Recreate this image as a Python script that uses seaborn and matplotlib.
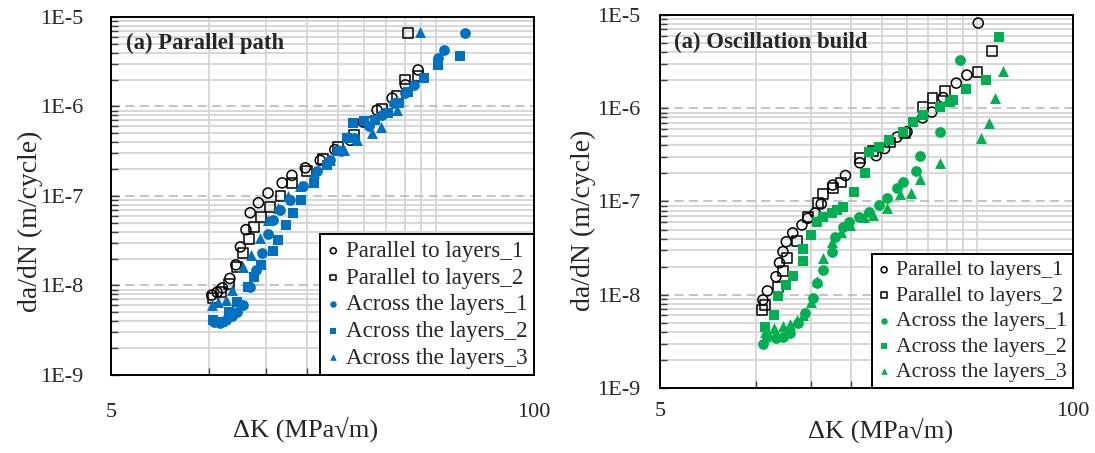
import numpy as np
import matplotlib
matplotlib.use("Agg")
import matplotlib.pyplot as plt
import matplotlib.ticker as mticker
import seaborn as sns

# ---- left panel: parallel path ----
lp_par1_k = [10.2, 10.6, 11.0, 11.6, 12.1, 12.5, 13.0, 13.4, 14.2, 15.2, 16.8, 18.0, 19.8, 22.0, 24.4, 27.2, 29.8, 32.9, 36.6, 40.2, 44.0]
lp_par1_y = [7.8e-9, 8.4e-9, 9.4e-9, 1.2e-8, 1.7e-8, 2.7e-8, 4.2e-8, 6.5e-8, 8.4e-8, 1.08e-7, 1.4e-7, 1.7e-7, 2.06e-7, 2.5e-7, 3.3e-7, 4.2e-7, 6.7e-7, 9.1e-7, 1.24e-6, 1.74e-6, 2.56e-6]
lp_par2_k = [10.3, 10.9, 11.5, 12.2, 12.7, 13.3, 13.8, 14.5, 15.4, 16.6, 18.0, 20.0, 22.5, 25.0, 28.0, 31.0, 34.0, 38.0, 40.2, 44.0, 41.0]
lp_par2_y = [7.3e-9, 8.5e-9, 1.05e-8, 1.6e-8, 2.3e-8, 3.3e-8, 4.5e-8, 5.8e-8, 7.5e-8, 1.0e-7, 1.4e-7, 1.9e-7, 2.6e-7, 3.5e-7, 4.8e-7, 6.8e-7, 9.5e-7, 1.3e-6, 2.0e-6, 2.2e-6, 6.6e-6]
lp_acr1_k = [10.4, 10.8, 11.3, 11.8, 12.2, 12.7, 13.4, 14.0, 14.6, 15.2, 15.8, 16.6, 17.8, 19.5, 21.5, 23.5, 25.5, 28.0, 31.0, 34.0, 37.0, 40.0, 42.6, 50.5, 52.9, 61.4]
lp_acr1_y = [3.9e-9, 3.8e-9, 4.1e-9, 4.6e-9, 5.0e-9, 6.1e-9, 9.7e-9, 1.5e-8, 2.3e-8, 3.8e-8, 5.4e-8, 7.0e-8, 9.0e-8, 1.3e-7, 1.9e-7, 2.5e-7, 3.2e-7, 4.4e-7, 6.0e-7, 8.0e-7, 1.1e-6, 1.4e-6, 1.74e-6, 3.5e-6, 4.3e-6, 6.6e-6]
lp_acr2_k = [10.3, 11.0, 11.5, 12.2, 13.2, 13.8, 14.5, 15.7, 16.3, 17.3, 18.2, 19.2, 21.0, 23.0, 25.0, 26.5, 27.8, 30.0, 32.5, 35.5, 38.5, 41.0, 46.0, 50.7, 59.0]
lp_acr2_y = [4.1e-9, 3.9e-9, 5.0e-9, 6.5e-9, 9.7e-9, 1.26e-8, 1.7e-8, 2.4e-8, 3.2e-8, 4.8e-8, 6.5e-8, 9.0e-8, 1.4e-7, 2.2e-7, 3.2e-7, 4.5e-7, 6.5e-7, 6.8e-7, 7.0e-7, 8.5e-7, 1.1e-6, 1.45e-6, 2.1e-6, 2.9e-6, 3.7e-6]
lp_acr3_k = [10.2, 10.7, 11.3, 11.8, 12.7, 13.5, 14.4, 15.2, 16.3, 17.5, 19.0, 21.0, 23.5, 26.0, 28.5, 31.8, 33.9, 38.0, 44.6]
lp_acr3_y = [6.1e-9, 6.5e-9, 6.9e-9, 8.9e-9, 1.6e-8, 2.2e-8, 3.4e-8, 5.4e-8, 7.4e-8, 1.0e-7, 1.3e-7, 1.8e-7, 2.5e-7, 3.3e-7, 4.2e-7, 5.0e-7, 5.9e-7, 9.1e-7, 6.8e-6]

# ---- right panel: oscillation build ----
rp_par1_k = [10.55, 10.9, 11.6, 11.9, 12.2, 12.5, 13.1, 14.0, 14.6, 15.4, 16.1, 17.5, 19.2, 21.3, 24.0, 25.5, 27.9, 30.0, 33.6, 35.9, 39.0, 42.9, 46.3, 50.3]
rp_par1_y = [8.8e-9, 1.1e-8, 1.56e-8, 2.2e-8, 2.9e-8, 3.7e-8, 4.6e-8, 5.6e-8, 6.6e-8, 7.5e-8, 9.4e-8, 1.5e-7, 1.9e-7, 2.6e-7, 3.1e-7, 3.7e-7, 4.9e-7, 5.6e-7, 7.9e-7, 9.1e-7, 1.3e-6, 1.86e-6, 2.27e-6, 8.2e-6]
rp_par2_k = [10.5, 10.7, 11.8, 12.2, 12.6, 13.5, 14.6, 15.7, 16.3, 17.5, 18.6, 21.3, 23.5, 26.5, 29.5, 33.6, 36.1, 39.6, 50.0, 55.7]
rp_par2_y = [6.8e-9, 7.8e-9, 1.2e-8, 1.8e-8, 2.5e-8, 3.8e-8, 6.8e-8, 9.6e-8, 1.2e-7, 1.4e-7, 1.6e-7, 2.9e-7, 3.5e-7, 4.3e-7, 5.4e-7, 1.03e-6, 1.28e-6, 1.53e-6, 2.45e-6, 4.1e-6]
rp_acr1_k = [10.55, 10.9, 11.6, 12.2, 12.8, 13.6, 14.3, 15.2, 15.6, 16.3, 17.4, 17.8, 18.9, 19.7, 21.2, 22.8, 24.5, 26.0, 27.9, 29.2, 32.1, 33.0, 38.1, 44.0]
rp_acr1_y = [3.0e-9, 3.5e-9, 3.4e-9, 3.5e-9, 3.9e-9, 5.0e-9, 6.3e-9, 9.2e-9, 1.35e-8, 1.85e-8, 2.9e-8, 4.2e-8, 5.3e-8, 6.0e-8, 6.8e-8, 7.7e-8, 9.1e-8, 1.1e-7, 1.4e-7, 1.6e-7, 2.1e-7, 3.1e-7, 5.6e-7, 3.3e-6]
rp_acr2_k = [10.7, 11.4, 11.8, 12.5, 13.1, 14.1, 14.1, 14.9, 15.6, 16.3, 17.4, 18.0, 18.9, 20.4, 22.1, 22.8, 24.5, 26.3, 29.2, 31.4, 33.6, 38.0, 40.9, 42.0, 45.9, 53.1, 58.4]
rp_acr2_y = [4.5e-9, 6.0e-9, 9.6e-9, 1.26e-8, 1.6e-8, 2.3e-8, 3.1e-8, 4.4e-8, 6.0e-8, 6.8e-8, 7.5e-8, 8.1e-8, 8.7e-8, 1.26e-7, 2.0e-7, 3.4e-7, 3.8e-7, 4.6e-7, 5.6e-7, 7.1e-7, 8.5e-7, 1.03e-6, 1.17e-6, 1.23e-6, 1.6e-6, 2.0e-6, 5.8e-6]
rp_acr3_k = [10.7, 11.4, 12.2, 12.8, 13.5, 14.1, 14.9, 15.6, 16.3, 17.4, 18.6, 19.8, 21.9, 23.5, 25.9, 28.6, 30.8, 33.0, 38.1, 51.3, 54.3, 56.8, 60.1]
rp_acr3_y = [4.0e-9, 4.4e-9, 4.6e-9, 4.8e-9, 5.3e-9, 6.0e-9, 8.4e-9, 1.4e-8, 2.5e-8, 3.7e-8, 4.7e-8, 5.6e-8, 6.8e-8, 7.2e-8, 8.5e-8, 1.2e-7, 1.24e-7, 1.74e-7, 2.6e-7, 4.8e-7, 6.9e-7, 1.29e-6, 2.5e-6]

labels = ["Parallel to layers_1", "Parallel to layers_2", "Across the layers_1",
          "Across the layers_2", "Across the layers_3"]
y_ticks = [1e-9, 1e-8, 1e-7, 1e-6, 1e-5]
y_ticklabels = ["1E-9", "1E-8", "1E-7", "1E-6", "1E-5"]
x_ticks = [5, 100]
x_ticklabels = ["5", "100"]
x_minor = [10, 15, 20, 25, 30, 35, 40, 45, 50]

sns.set_theme(style="white")
plt.rcParams["font.family"] = ["Liberation Serif", "DejaVu Serif"]

fig = plt.figure(figsize=(10.95, 4.53), dpi=100)
ax1 = fig.add_axes([0.1014, 0.1722, 0.3863, 0.7903])
ax2 = fig.add_axes([0.6027, 0.1435, 0.3772, 0.8234])


def draw_panel(ax, series, color, title, fs_tick, fs_leg, tick_pad_y, tick_pad_x):
    markers = ["o", "s", "o", "s", "^"]
    sizes = [52, 50, 60, 52, 62]
    for i, (k, y) in enumerate(series):
        if i < 2:
            sns.scatterplot(x=k, y=y, ax=ax, marker=markers[i], s=sizes[i],
                            facecolors="none", edgecolor="black", linewidth=1.1,
                            label=labels[i], zorder=3)
        else:
            sns.scatterplot(x=k, y=y, ax=ax, marker=markers[i], s=sizes[i],
                            color=color, edgecolor=color, linewidth=0,
                            label=labels[i], zorder=3)
    ax.set_xscale("log")
    ax.set_yscale("log")
    ax.set_xlim(5, 100)
    ax.set_ylim(1e-9, 1e-5)
    ax.xaxis.set_major_locator(mticker.FixedLocator(x_ticks))
    ax.xaxis.set_major_formatter(mticker.FixedFormatter(x_ticklabels))
    ax.xaxis.set_minor_locator(mticker.FixedLocator(x_minor))
    ax.xaxis.set_minor_formatter(mticker.NullFormatter())
    ax.yaxis.set_major_locator(mticker.FixedLocator(y_ticks))
    ax.yaxis.set_major_formatter(mticker.FixedFormatter(y_ticklabels))
    ax.yaxis.set_minor_locator(mticker.LogLocator(base=10, subs=np.arange(2, 10)))
    ax.yaxis.set_minor_formatter(mticker.NullFormatter())

    ax.grid(False)
    ax.grid(True, which="minor", axis="both", color="#d6d6d6", linewidth=1.3, linestyle="-", zorder=0)
    ax.grid(True, which="major", axis="y", color="#bfbfbf", linewidth=1.3, linestyle=(0, (5, 3)), zorder=0)
    ax.set_axisbelow(True)

    ax.tick_params(axis="y", which="major", direction="in", length=6, width=1,
                   labelsize=fs_tick, pad=tick_pad_y, left=True, color="#404040")
    ax.tick_params(axis="y", which="minor", direction="in", length=5, width=1,
                   left=True, color="#404040")
    ax.tick_params(axis="x", which="major", length=0, labelsize=fs_tick, pad=tick_pad_x)
    ax.tick_params(axis="x", which="minor", direction="in", length=5, width=1,
                   bottom=True, color="#404040")
    for sp in ax.spines.values():
        sp.set_color("black")
        sp.set_linewidth(1.4)

    ax.set_xlabel("\u0394K (MPa\u221am)", fontsize=19)
    ax.set_ylabel("da/dN (m/cycle)", fontsize=20)
    ax.text(0.035, 0.927, title, transform=ax.transAxes, fontsize=16.4,
            fontweight="bold", va="center", ha="left")

    leg = ax.legend(loc="lower right", borderaxespad=0, fontsize=fs_leg,
                    frameon=True, fancybox=False, edgecolor="black",
                    handlelength=0.6, handletextpad=0.25, labelspacing=0.24,
                    borderpad=0.28, markerscale=0.6)
    leg.get_frame().set_linewidth(1.4)
    leg.get_frame().set_alpha(1)


left_series = [(lp_par1_k, lp_par1_y), (lp_par2_k, lp_par2_y), (lp_acr1_k, lp_acr1_y),
               (lp_acr2_k, lp_acr2_y), (lp_acr3_k, lp_acr3_y)]
right_series = [(rp_par1_k, rp_par1_y), (rp_par2_k, rp_par2_y), (rp_acr1_k, rp_acr1_y),
                (rp_acr2_k, rp_acr2_y), (rp_acr3_k, rp_acr3_y)]

draw_panel(ax1, left_series, "#0070c0", "(a) Parallel path", 16, 16.6, 20, 20)
draw_panel(ax2, right_series, "#00b050", "(a) Oscillation build", 16, 15.6, 14, 10)

ax1.xaxis.set_label_coords(0.46, -0.115)
ax1.yaxis.set_label_coords(-0.16, 0.43)
ax2.xaxis.set_label_coords(0.535, -0.08)
ax2.yaxis.set_label_coords(-0.155, 0.45)

fig.savefig("out.png", dpi=100)
